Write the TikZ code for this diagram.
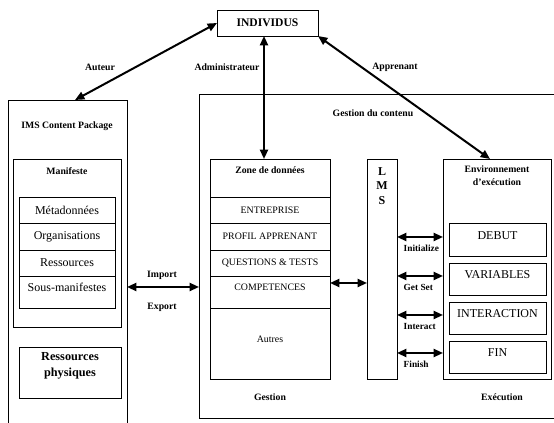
\documentclass[tikz,border=0pt]{standalone}
\usepackage{fontspec}
\setmainfont{Liberation Serif}
\usetikzlibrary{arrows.meta,positioning}
\tikzset{
    box/.style={draw, line width=0.7pt, inner sep=0pt, outer sep=0pt},
    sz/.style 2 args={minimum width=#1*0.75pt, minimum height=#2*0.75pt},
    lbl/.style={font=\fontsize{7.3}{9.75}\selectfont\bfseries},
    txt/.style={font=\fontsize{9}{11}\selectfont},
    caps/.style={font=\fontsize{7.4}{9}\selectfont},
    link/.style={{Triangle[length=7pt,width=6pt]}-{Triangle[length=7pt,width=6pt]}, line width=1.5pt},
}
\begin{document}
\begin{tikzpicture}[x=0.75pt, y=-0.75pt]
    \useasboundingbox (0,0) rectangle (554,423);
    \node[box, sz={101}{26}, font=\fontsize{8.7}{10}\selectfont\bfseries] (ind) at (267.5,23) {INDIVIDUS};

    \node[box, sz={119}{340}] (ims) at (67.5,270) {};
    \node[lbl] (imst) at (67,126) {IMS Content Package};
    \node[box, sz={108}{168}] (man) at (67,243) {};
    \node[lbl] (mant) at (67,171) {Manifeste};
    \node[box, sz={96}{26}, txt] (meta) at (67,210) {Métadonnées};
    \node[box, sz={96}{27}, txt, below=0pt of meta] (org) {Organisations};
    \node[box, sz={96}{26}, txt, below=0pt of org] (res) {Ressources};
    \node[box, sz={96}{32}, txt, text depth=7.5pt, below=0pt of res] (sous) {Sous-manifestes};
    \node[box, sz={102}{51}] (phys) at (70,372.5) {};
    \node[font=\fontsize{9.2}{12}\selectfont\bfseries, align=center] (physt) at (70,366) {Ressources\\physiques};

    \node[box, sz={361}{324}] (cont) at (379.5,256) {};
    \node[lbl] (contt) at (373,113) {Gestion du contenu};

    \node[box, sz={120}{220}] (zone) at (270,269) {};
    \node[lbl] (zonet) at (270,170) {Zone de données};
    \node[box, sz={120}{26}, caps] (ent) at (270,210) {ENTREPRISE};
    \node[box, sz={120}{27}, caps, below=0pt of ent] (prof) {PROFIL APPRENANT};
    \node[box, sz={120}{26}, caps, below=0pt of prof] (quest) {QUESTIONS \& TESTS};
    \node[box, sz={120}{32}, caps, text depth=7.5pt, below=0pt of quest] (comp) {COMPETENCES};
    \node[caps] (autres) at (270,339) {Autres};
    \node[lbl] (gest) at (270,397) {Gestion};

    \node[box, sz={30}{220}] (lms) at (382,269) {};
    \node[font=\fontsize{9}{10.9}\selectfont\bfseries, align=center] (lmst) at (382,186) {L\\M\\S};

    \node[box, sz={108}{220}] (env) at (497,269) {};
    \node[lbl, align=center] (envt) at (497,176) {Environnement\\d'exécution};
    \node[box, sz={97}{33}, txt, text depth=6pt] (debut) at (497.5,239.5) {DEBUT};
    \node[box, sz={97}{32}, txt, text depth=6pt] (var) at (497.5,279) {VARIABLES};
    \node[box, sz={97}{32}, txt, text depth=6pt] (inter) at (497.5,318) {INTERACTION};
    \node[box, sz={97}{32}, txt, text depth=6pt] (fin) at (497.5,357) {FIN};
    \node[lbl] (exe) at (502,397) {Exécution};

    \draw[link] (ind.west) -- (ims.north -| 75,0);
    \draw[link] (ind.south -| 264,0) -- (zone.north -| 264,0);
    \draw[link] (ind.south east) -- (env.north -| 490,0);
    \node[lbl] (aut) at (100,67) {Auteur};
    \node[lbl] (adm) at (227,67) {Administrateur};
    \node[lbl] (app) at (395,67) {Apprenant};

    \draw[link] (ims.east |- 0,287) -- (cont.west |- 0,287);
    \node[lbl] (imp) at (162,275) {Import};
    \node[lbl] (exp) at (162,307) {Export};
    \draw[link] (zone.east |- 0,283) -- (lms.west |- 0,283);

    \foreach \y/\t in {237/Initialize, 276/Get Set, 315/Interact, 353/Finish} {
        \draw[link] (lms.east |- 0,\y) -- (env.west |- 0,\y);
        \node[lbl, anchor=west, font=\fontsize{7}{9}\selectfont\bfseries] (call\y) at (399,\y+11) {\t};
    }
\end{tikzpicture}
\end{document}
